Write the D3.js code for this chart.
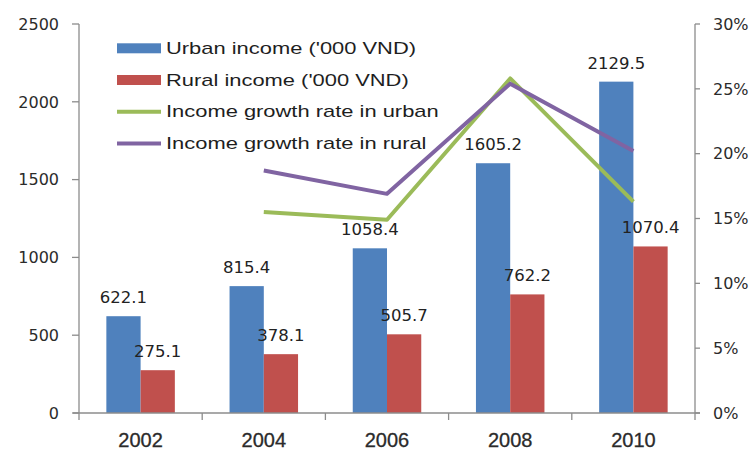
<!DOCTYPE html>
<html>
<head>
<meta charset="utf-8">
<script src="https://cdn.jsdelivr.net/npm/d3@7"></script>
<style>
  html, body { margin: 0; padding: 0; background: #fff; }
  svg { display: block; }
</style>
</head>
<body>
<svg id="chart" width="755" height="456"></svg>
<script>
// Survey years
const years = ["2002", "2004", "2006", "2008", "2010"];
// Monthly income per capita ('000 VND)
const urbanIncome = [622.1, 815.4, 1058.4, 1605.2, 2129.5];
const ruralIncome = [275.1, 378.1, 505.7, 762.2, 1070.4];
// Average yearly growth rate (%) over each two-year period
const growthYears = ["2004", "2006", "2008", "2010"];
const urbanGrowth = [15.5, 14.9, 25.8, 16.3];
const ruralGrowth = [18.7, 16.9, 25.4, 20.2];
// Axis ticks
const incomeTicks = [0, 500, 1000, 1500, 2000, 2500];
const growthTicks = [0, 5, 10, 15, 20, 25, 30];

const colors = { urban: "#4F81BD", rural: "#C0504D", gUrban: "#9BBB59", gRural: "#8064A2" };
const axisColor = "#8c8c8c";
const textColor = "#2b2b2b";

const svg = d3.select("#chart");
const plot = { left: 79, right: 695, top: 24, bottom: 413 };

const x = d3.scaleBand().domain(years).range([plot.left, plot.right]).paddingInner(0).paddingOuter(0);
const gapFrac = 0.222;
const xs = d3.scaleBand().domain(["urban", "rural"])
  .range([x.bandwidth() * gapFrac, x.bandwidth() * (1 - gapFrac)]).padding(0);
const yL = d3.scaleLinear().domain([0, 2500]).range([plot.bottom, plot.top]);
const yR = d3.scaleLinear().domain([0, 30]).range([plot.bottom, plot.top]);

const rows = years.map((yr, i) => ({ year: yr, urban: urbanIncome[i], rural: ruralIncome[i] }));

// Bars
const groups = svg.append("g").selectAll("g").data(rows).join("g")
  .attr("transform", d => `translate(${x(d.year)},0)`);
groups.selectAll("rect").data(d => ["urban", "rural"].map(k => ({ key: k, value: d[k] })))
  .join("rect")
  .attr("x", d => xs(d.key))
  .attr("width", xs.bandwidth())
  .attr("y", d => yL(d.value))
  .attr("height", d => yL(0) - yL(d.value))
  .attr("fill", d => colors[d.key]);

// Axes
const axisG = svg.append("g").attr("stroke", axisColor).attr("stroke-width", 1.3).attr("fill", "none");
axisG.append("line").attr("x1", plot.left).attr("x2", plot.left).attr("y1", plot.top).attr("y2", plot.bottom);
axisG.append("line").attr("x1", plot.right).attr("x2", plot.right).attr("y1", plot.top).attr("y2", plot.bottom);
axisG.append("line").attr("x1", plot.left - 6).attr("x2", plot.right + 5).attr("y1", plot.bottom).attr("y2", plot.bottom);
axisG.selectAll(".tl").data(incomeTicks).join("line")
  .attr("x1", plot.left - 7).attr("x2", plot.left).attr("y1", d => yL(d)).attr("y2", d => yL(d));
axisG.selectAll(".tr").data(growthTicks).join("line")
  .attr("x1", plot.right).attr("x2", plot.right + 5).attr("y1", d => yR(d)).attr("y2", d => yR(d));
const boundaries = years.map(y => x(y)).concat([plot.right]);
axisG.selectAll(".tb").data(boundaries).join("line")
  .attr("x1", d => d).attr("x2", d => d).attr("y1", plot.bottom).attr("y2", plot.bottom + 7);

// Tick labels
svg.append("g").selectAll("text").data(incomeTicks).join("text")
  .attr("x", 59).attr("y", d => yL(d)).attr("dy", "0.36em")
  .attr("text-anchor", "end")
  .attr("font-family", "DejaVu Sans").attr("font-size", 16).attr("fill", textColor)
  .text(d => d);
svg.append("g").selectAll("text").data(growthTicks).join("text")
  .attr("x", 713).attr("y", d => yR(d)).attr("dy", "0.36em")
  .attr("text-anchor", "start")
  .attr("font-family", "DejaVu Sans").attr("font-size", 16).attr("fill", textColor)
  .text(d => d + "%");
svg.append("g").selectAll("text").data(years).join("text")
  .attr("x", d => x(d) + x.bandwidth() / 2).attr("y", 447)
  .attr("text-anchor", "middle")
  .attr("font-family", "Liberation Sans, Arial, sans-serif").attr("font-size", 20)
  .attr("fill", textColor).attr("stroke", textColor).attr("stroke-width", 0.3)
  .text(d => d);

// Growth-rate lines
const line = d3.line().x(d => x(d.year) + x.bandwidth() / 2).y(d => yR(d.value));
const gUrbanData = growthYears.map((yr, i) => ({ year: yr, value: urbanGrowth[i] }));
const gRuralData = growthYears.map((yr, i) => ({ year: yr, value: ruralGrowth[i] }));
svg.append("path").datum(gUrbanData).attr("d", line)
  .attr("fill", "none").attr("stroke", colors.gUrban).attr("stroke-width", 4).attr("stroke-linejoin", "round");
svg.append("path").datum(gRuralData).attr("d", line)
  .attr("fill", "none").attr("stroke", colors.gRural).attr("stroke-width", 4).attr("stroke-linejoin", "round");

// Value labels above bars
groups.selectAll("text").data(d => ["urban", "rural"].map(k => ({ key: k, value: d[k] })))
  .join("text")
  .attr("x", d => xs(d.key) + xs.bandwidth() / 2)
  .attr("y", d => yL(d.value) - 13)
  .attr("text-anchor", "middle")
  .attr("font-family", "DejaVu Sans").attr("font-size", 16.5).attr("fill", "#222")
  .text(d => d.value.toFixed(1));

// Legend
const legendItems = [
  { label: "Urban income ('000 VND)", type: "bar", color: colors.urban },
  { label: "Rural income ('000 VND)", type: "bar", color: colors.rural },
  { label: "Income growth rate in urban", type: "line", color: colors.gUrban },
  { label: "Income growth rate in rural", type: "line", color: colors.gRural }
];
const legend = svg.append("g");
const li = legend.selectAll("g").data(legendItems).join("g")
  .attr("transform", (d, i) => `translate(117,${48.3 + i * 31.7})`);
li.filter(d => d.type === "bar").append("rect")
  .attr("x", 0).attr("y", -5).attr("width", 44).attr("height", 10).attr("fill", d => d.color);
li.filter(d => d.type === "line").append("line")
  .attr("x1", 0).attr("x2", 44).attr("y1", 0).attr("y2", 0)
  .attr("stroke", d => d.color).attr("stroke-width", 4);
li.append("text")
  .attr("transform", "translate(49,0) scale(1.37,1)")
  .attr("dy", "0.36em")
  .attr("font-family", "Liberation Sans, Arial, sans-serif").attr("font-size", 16).attr("fill", "#1e1e1e")
  .text(d => d.label);
</script>
</body>
</html>
